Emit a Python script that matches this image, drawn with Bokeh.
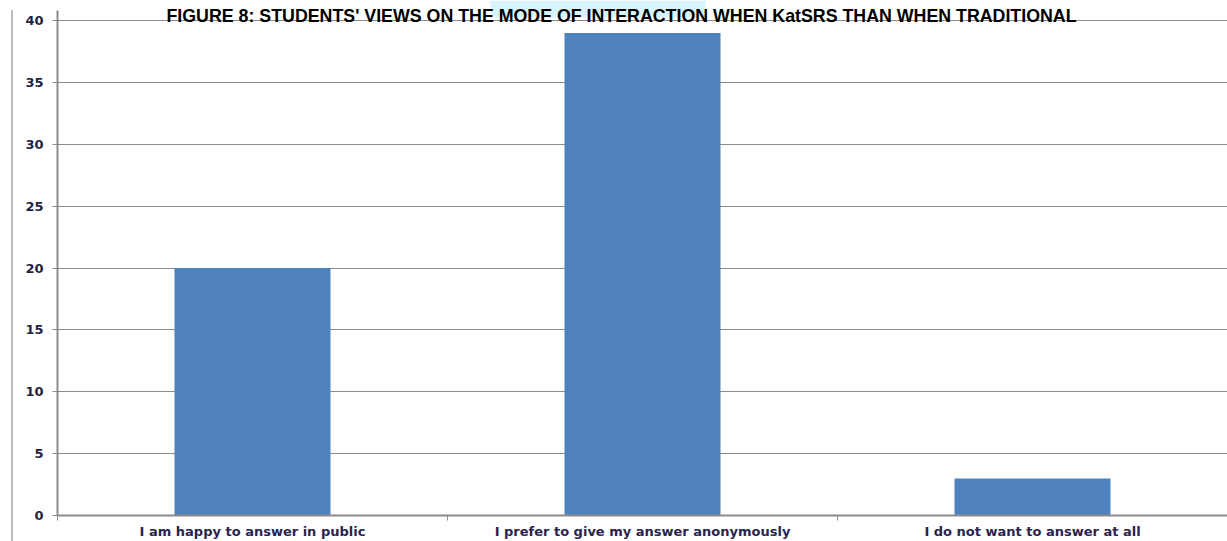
from bokeh.plotting import figure
from bokeh.layouts import row
from bokeh.models import (Range1d, FixedTicker, CustomJSTickFormatter, Label,
                          BoxAnnotation, Div)
from bokeh.embed import file_html
from bokeh.resources import INLINE

# Survey responses: preferred mode of interaction
categories = [
    "I am happy to answer in public",
    "I prefer to give my answer anonymously",
    "I do not want to answer at all",
]
counts = [20, 39, 3]
y_ticks = [0, 5, 10, 15, 20, 25, 30, 35, 40]

title_text = ("FIGURE 8: STUDENTS' VIEWS ON THE MODE OF INTERACTION "
              "WHEN KatSRS THAN WHEN TRADITIONAL")

n = len(categories)
xs = [i + 0.5 for i in range(n)]

p = figure(width=1214, height=541, output_backend="svg", toolbar_location=None,
           x_range=Range1d(0, n), y_range=Range1d(0, 41.62),
           min_border_left=44, min_border_right=0, min_border_top=0,
           min_border_bottom=20)
p.outline_line_color = None
p.background_fill_color = "white"
p.border_fill_color = "white"

p.vbar(x=xs, top=counts, width=0.4, fill_color="#4f81bd", line_color=None)

# value axis
p.yaxis.ticker = FixedTicker(ticks=y_ticks)
p.yaxis.bounds = (0, 40.8)
p.yaxis.axis_line_color = "#8c8c8c"
p.yaxis.axis_line_width = 2
p.yaxis.major_tick_line_color = "#8c8c8c"
p.yaxis.major_tick_out = 5
p.yaxis.major_tick_in = 0
p.yaxis.minor_tick_line_color = None
p.yaxis.major_label_standoff = 9
p.yaxis.major_label_text_font = "DejaVu Sans"
p.yaxis.major_label_text_font_size = "13px"
p.yaxis.major_label_text_font_style = "bold"
p.yaxis.major_label_text_color = "#1f2440"

p.ygrid.ticker = FixedTicker(ticks=y_ticks)
p.ygrid.grid_line_color = "#8c8c8c"
p.ygrid.grid_line_width = 1
p.xgrid.grid_line_color = None

# category axis: labels at bar centres, tick marks between categories
p.xaxis.ticker = FixedTicker(ticks=xs, minor_ticks=list(range(n + 1)))
p.xaxis.formatter = CustomJSTickFormatter(
    args=dict(labels=categories),
    code="return labels[Math.floor(tick)] || '';")
p.xaxis.axis_line_color = "#8c8c8c"
p.xaxis.axis_line_width = 2
p.xaxis.major_tick_line_color = None
p.xaxis.major_tick_out = 0
p.xaxis.major_tick_in = 0
p.xaxis.minor_tick_line_color = "#8c8c8c"
p.xaxis.minor_tick_out = 5
p.xaxis.minor_tick_in = 0
p.xaxis.major_label_standoff = 3
p.xaxis.major_label_text_font = "DejaVu Sans"
p.xaxis.major_label_text_font_size = "13px"
p.xaxis.major_label_text_font_style = "bold"
p.xaxis.major_label_text_color = "#2a2450"

# highlighted phrase behind the heading
p.add_layout(BoxAnnotation(left=477, right=692, top=0, bottom=17,
                           left_units="canvas", right_units="canvas",
                           bottom_units="canvas", top_units="canvas",
                           fill_color="#d6f4fc", fill_alpha=1, line_color=None,
                           level="underlay"))

p.add_layout(Label(x=608, y=15, x_units="canvas", y_units="canvas",
                   text=title_text, text_align="center",
                   text_baseline="alphabetic",
                   text_font="Liberation Sans", text_font_style="bold",
                   text_font_size="17.8px", text_color="black"))

# thin page rule to the left of the chart
rule = Div(text="", width=2, height=531, margin=(10, 0, 0, 11),
           styles={"background-color": "#b4bcbc"})

layout = row(rule, p, spacing=0)
open("out.html", "w").write(file_html(layout, INLINE))
